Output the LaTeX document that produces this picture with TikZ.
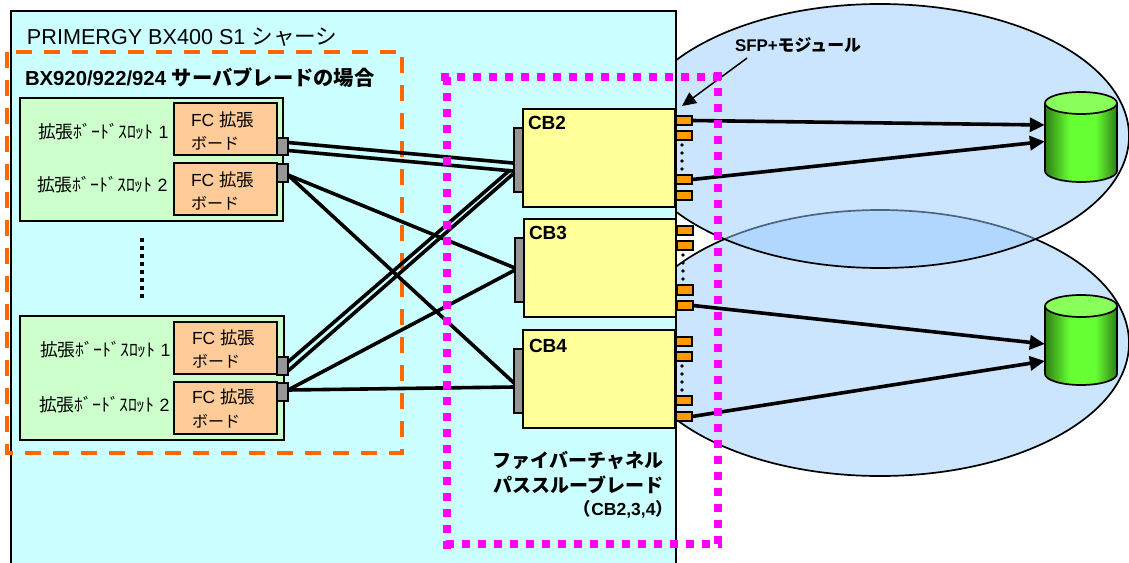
\documentclass[tikz,border=0pt]{standalone}
\usepackage{fontspec}
\setmainfont{Liberation Sans}
\newfontfamily\cjk{Noto Sans CJK JP}
\usetikzlibrary{arrows.meta}
\definecolor{chassisc}{HTML}{CCFFFF}
\definecolor{ellc}{HTML}{99CBFF}
\definecolor{slotc}{HTML}{CCFFCC}
\definecolor{boardc}{HTML}{FFCC99}
\definecolor{portc}{HTML}{969696}
\definecolor{cbc}{HTML}{FFFF99}
\definecolor{sfpc}{HTML}{FF9900}
\definecolor{dashor}{HTML}{FF6600}
\definecolor{dashmg}{HTML}{FF00FF}
\definecolor{cyldark}{HTML}{2E7D14}
\definecolor{cylmid}{HTML}{66FF33}
\definecolor{cyltop}{HTML}{88FF5A}
\pgfdeclarehorizontalshading{cylshade}{100bp}{color(0bp)=(cyldark); color(25bp)=(cyldark); color(42bp)=(cylmid); color(60bp)=(cylmid); color(75bp)=(cyldark); color(100bp)=(cyldark)}
\tikzset{
  base/.style={draw=black,inner sep=0pt,outer sep=0pt,line width=2pt},
  chassis/.style={base,fill=chassisc},
  slotbox/.style={base,fill=slotc},
  board/.style={base,fill=boardc},
  port/.style={base,fill=portc,line width=1.8pt},
  cbox/.style={base,fill=cbc},
  sfp/.style={base,fill=sfpc},
  zone/.style={draw=black,line width=1.7pt},
  link/.style={draw=black,line width=3.6pt},
  toarr/.style={link,-{Triangle[length=15pt,width=14pt]},shorten >=0pt},
  txt/.style={inner sep=0pt,outer sep=0pt,anchor=base west,font=\fontsize{17.8}{17.8}\selectfont},
  dotrow/.style={draw=black,line width=3.6pt,line cap=round,dash pattern=on 0pt off 8pt},
  orzone/.style={dashor,line width=3.8pt,dash pattern=on 16pt off 12pt},
  mgzone/.style={dashmg,line width=8pt,dash pattern=on 8pt off 8pt},
}
\newcommand{\bx}[6]{%
  \pgfmathsetmacro{\bw}{#5-#3}\pgfmathsetmacro{\bh}{#6-#4}%
  \node[#2,minimum width=\bw pt,minimum height=\bh pt] (#1) at ({(#3+#5)/2},{(#4+#6)/2}) {};}
\newcommand{\cyl}[2]{% centre x, top of ellipse centre y
  \path[shading=cylshade] (#1-36,#2) -- (#1-36,#2+68) arc[start angle=180,end angle=360,x radius=36pt,y radius=11pt] -- (#1+36,#2) -- cycle;
  \draw[black,line width=1.7pt] (#1-36,#2) -- (#1-36,#2+68) arc[start angle=180,end angle=360,x radius=36pt,y radius=11pt] -- (#1+36,#2);
  \draw[black,line width=1.7pt,fill=cyltop] (#1,#2) ellipse[x radius=36pt,y radius=11pt];}
\begin{document}
\begin{tikzpicture}[x=1pt,y=-1pt]
\useasboundingbox (0,0) rectangle (1129,562);
\clip (0,0) rectangle (1129,562);
% ellipses
\path[fill=ellc!50!white,zone] (880,343) ellipse[x radius=249pt,y radius=133pt];
\path[fill=ellc,fill opacity=0.5,zone] (880,136) ellipse[x radius=249pt,y radius=132pt];
% chassis
\bx{ch}{chassis}{10.5}{11}{676}{590}
\node[txt,font=\fontsize{21.6}{21.6}\selectfont] (t0) at (27,44) {PRIMERGY BX400 S1 {\cjk シャーシ}};
\node[txt,font=\fontsize{20.3}{20.3}\selectfont\bfseries] (t1) at (25,85) {BX920/922/924 {\cjk サーバブレードの場合}};
% orange zone
\draw[orzone] (7,52) -- (7,455);
\draw[orzone] (16,52) -- (402,52);
\draw[orzone] (402,57) -- (402,455);
\draw[orzone,dash phase=8pt] (5,453) -- (404,453);
% server slots
\bx{s1}{slotbox}{20}{98}{283}{221}
\bx{s2}{slotbox}{20}{316}{284}{440}
\bx{b1}{board}{174}{103}{277}{155}
\bx{b2}{board}{174}{163}{277}{215}
\bx{b3}{board}{174}{322}{277}{374}
\bx{b4}{board}{174}{382}{277}{434}
\bx{p1}{port}{277}{138}{288}{155}
\bx{p2}{port}{277}{164}{288}{182}
\bx{p3}{port}{277}{357}{288}{375}
\bx{p4}{port}{277}{383}{288}{401}
\foreach \n/\x/\y/\d in {l1/38/138/1,l2/37/191/2,l3/40/356/1,l4/39/411/2}
  \node[txt] (\n) at (\x,\y) {{\cjk 拡張ﾎﾞｰﾄﾞｽﾛｯﾄ} \d};
\foreach \n/\x/\ya/\yb in {f1/191/126/149,f2/191/186/209,f3/192/344/367,f4/192/403/427}{
  \node[txt,font=\fontsize{17.5}{17.5}\selectfont] (\n a) at (\x,\ya) {FC {\cjk 拡張}};
  \node[txt,font=\fontsize{16}{16}\selectfont] (\n b) at (\x,\yb) {\cjk ボード};}
\draw[black,line width=4pt,dash pattern=on 4pt off 4pt] (142,238) -- (142,298);
% pass-through blades
\bx{c2}{cbox}{523}{109}{675}{207}
\bx{c3}{cbox}{524}{219}{676}{317}
\bx{c4}{cbox}{523}{330}{675}{428}
\bx{k2}{port}{514}{128}{523}{192}
\bx{k3}{port}{515}{238}{524}{302}
\bx{k4}{port}{514}{349}{523}{413}
\foreach \n/\x/\y/\t in {n2/528/129/CB2,n3/529/239/CB3,n4/529/352/CB4}
  \node[txt,font=\fontsize{19}{19}\selectfont\bfseries] (\n) at (\x,\y) {\t};
% SFP modules
\foreach \n/\x/\a/\b in {a1/676/116/125,a2/676/131/140,a3/676/175/184,a4/676/191/200,
  e1/677/226/235,e2/677/241/250,e3/677/285/295,e4/677/301/310,
  g1/676/337/346,g2/676/352/361,g3/676/396/405,g4/676/412/421}{
  \pgfmathsetmacro{\xr}{\x+16}
  \bx{\n}{sfp}{\x}{\a}{\xr}{\b}}
\draw[dotrow] ([yshift=-5pt]a2.south west) ++(6,0) -- ++(0,26);
\draw[dotrow] ([yshift=-5pt]e2.south west) ++(6,0) -- ++(0,26);
\draw[dotrow] ([yshift=-5pt]g2.south west) ++(6,0) -- ++(0,26);
% links
\draw[link] ([yshift=4pt]p1.east) -- ([yshift=-3pt,xshift=-1pt]k2.west);
\draw[link] ([yshift=-4pt]p1.east) -- ([yshift=-11pt,xshift=-1pt]k2.west);
\draw[link] ([yshift=-2pt]p2.east) -- ([yshift=2pt]k3.west);
\draw[link] ([yshift=-2pt]p2.east) -- ([yshift=-2pt]k4.west);
\draw[link] ([yshift=4pt]p3.east) -- ([yshift=-10pt,xshift=-4pt]k2.west);
\draw[link] ([yshift=-5pt]p3.east) -- ([yshift=-14pt,xshift=-1pt]k2.west);
\draw[link] ([yshift=2pt]p4.east) -- ([yshift=0pt]k3.west);
\draw[link] ([yshift=2pt]p4.east) -- ([yshift=-6pt]k4.west);
% disks
\node[inner sep=0pt,minimum width=72pt,minimum height=90pt] (d1) at (1081,137) {};
\node[inner sep=0pt,minimum width=72pt,minimum height=90pt] (d2) at (1081,340) {};
\cyl{1081}{103}
\cyl{1081}{306}
\draw[toarr] (a1.east) -- ([yshift=12pt]d1.west);
\draw[toarr] (a3.east) -- ([yshift=-4.5pt]d1.west);
\draw[toarr] (e4.east) -- ([yshift=-4pt]d2.west);
\draw[toarr] (g4.east) -- ([yshift=-21pt]d2.west);
% labels
\node[txt,font=\fontsize{16.9}{16.9}\selectfont\bfseries] (sfpl) at (735,51) {SFP+{\cjk モジュール}};
\coordinate (sfpt) at (682,106);
\draw[black,line width=1.5pt,-{Triangle[length=14pt,width=13pt]}] ([xshift=12pt,yshift=-6pt]sfpl.south west) -- (sfpt);
\node[txt,anchor=base east,font=\fontsize{19}{19}\selectfont\bfseries\cjk] (pt1) at (663,467) {ファイバーチャネル};
\node[txt,anchor=base east,font=\fontsize{19}{19}\selectfont\bfseries\cjk] (pt2) at (663,492) {パススルーブレード};
\node[txt,anchor=base east,font=\fontsize{17.5}{17.5}\selectfont\bfseries] (pt3) at (673,515) {{\cjk （}CB2,3,4{\cjk ）}};
% magenta zone
\draw[mgzone] (447,77) -- (447,549);
\draw[mgzone] (441,77) -- (722,77);
\draw[mgzone] (718,72) -- (718,548);
\draw[mgzone] (446,544) -- (722,544);
\end{tikzpicture}
\end{document}
